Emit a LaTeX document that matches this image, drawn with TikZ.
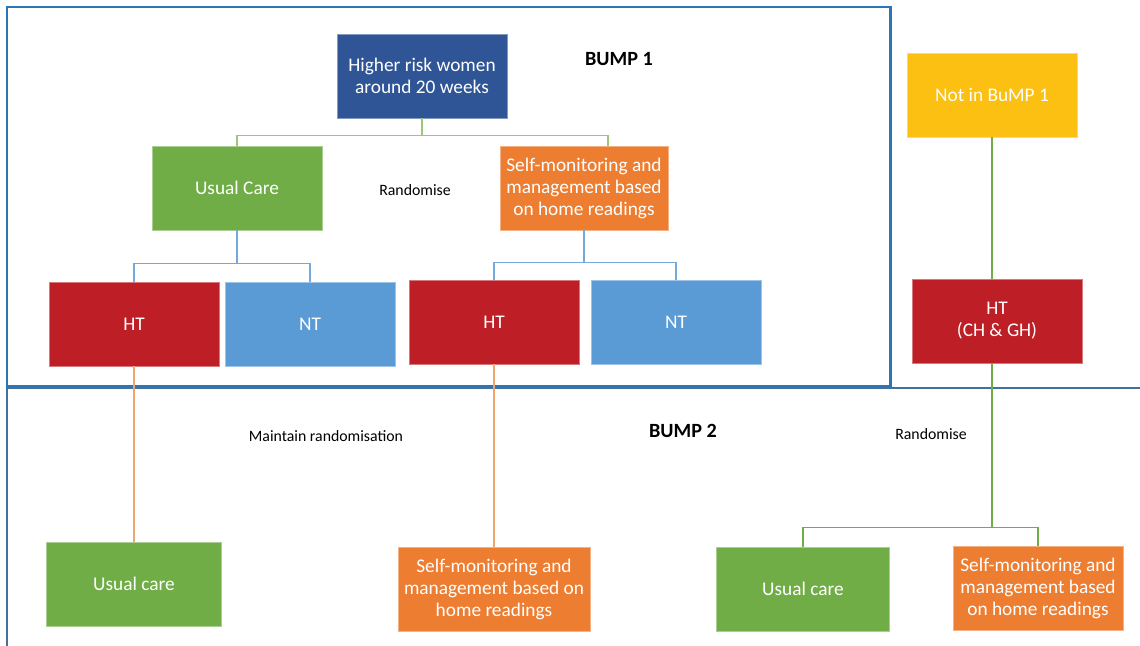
\documentclass[tikz,border=0pt]{standalone}
\usepackage{fontspec}
\setmainfont{Carlito}
\usetikzlibrary{positioning, calc}
\definecolor{frameblue}{RGB}{46,117,182}
\definecolor{framesteel}{RGB}{65,113,156}
\definecolor{riskblue}{RGB}{47,85,151}
\definecolor{caregreen}{RGB}{112,173,71}
\definecolor{selforange}{RGB}{237,125,49}
\definecolor{htred}{RGB}{190,30,37}
\definecolor{ntblue}{RGB}{91,155,213}
\definecolor{notyellow}{RGB}{252,192,19}
\tikzset{
    box/.style={
        rectangle,
        fill=#1,
        draw=#1!60!white,
        line width=0.4pt,
        inner sep=1pt,
        minimum width=3.4cm,
        minimum height=1.68cm,
        align=center,
        text=white,
        font=\fontsize{11}{12.5}\selectfont,
    },
    link/.style={
        draw=#1,
        line width=0.9pt,
    },
    note/.style={
        font=\fontsize{9}{11}\selectfont,
    },
    title/.style={
        font=\fontsize{11.5}{13}\selectfont\bfseries,
    },
}

\begin{document}
\begin{tikzpicture}[x=0.02cm, y=-0.02cm]
      \useasboundingbox (0,0) rectangle (1140,646);

      % trial frames
      \draw[frameblue, line width=1.7pt] (7,7) rectangle (890,386);
      \draw[framesteel, line width=1.7pt] (1140,388) -- (7,388) -- (7,646);

      % BUMP 1
      \node [box=riskblue] (risk) at (422,76) {Higher risk women\\around 20 weeks};
      \node [title] (bumpone) at (619,59) {BUMP 1};
      \node [box=caregreen] (usual) at (237,188) {Usual Care};
      \node [box=selforange, minimum width=3.36cm] (selfmon) at (584,188) {Self-monitoring and\\management based\\on home readings};
      \node [note] (rand) at (415,190) {Randomise};

      \node [box=htred] (htone) at (134,324) {HT};
      \node [box=ntblue] (ntone) at (310,324) {NT};
      \node [box=htred] (httwo) at (494,322) {HT};
      \node [box=ntblue] (nttwo) at (676,322) {NT};

      \node [box=notyellow] (notin) at (992,95) {Not in BuMP 1};
      \node [box=htred] (htnew) at (997,321) {HT\\(CH \& GH)};
      \coordinate (stem) at (notin.south |- htnew.south);

      % BUMP 2
      \node [title] (bumptwo) at (683,431) {BUMP 2};
      \node [note] (keep) at (326,436) {Maintain randomisation};
      \node [note] (randnew) at (931,434) {Randomise};

      \node [box=caregreen, minimum width=3.5cm] (careone) at (134,584) {Usual care};
      \node [box=selforange, minimum width=3.84cm] (selfone) at (494,589) {Self-monitoring and\\management based on\\home readings};
      \node [box=caregreen, minimum width=3.46cm] (caretwo) at (803,589) {Usual care};
      \node [box=selforange] (selftwo) at (1038,588) {Self-monitoring and\\management based\\on home readings};

      % connectors
      \draw [link=caregreen!70!white] (risk.south) -- ++(0,17) -| (usual.north);
      \draw [link=caregreen!70!white] (risk.south) -- ++(0,17) -| ($(selfmon.north)+(24,0)$);
      \draw [link=ntblue!85!white] (usual.south) -- ++(0,33) -| (htone.north);
      \draw [link=ntblue!85!white] (usual.south) -- ++(0,33) -| (ntone.north);
      \draw [link=ntblue!85!white] (selfmon.south) -- ++(0,32) -| (httwo.north);
      \draw [link=ntblue!85!white] (selfmon.south) -- ++(0,32) -| (nttwo.north);

      \draw [link=caregreen] (notin.south) -- (notin.south |- htnew.north);
      \draw [link=caregreen] (stem) -- ++(0,164) -| (caretwo.north);
      \draw [link=caregreen] (stem) -- ++(0,164) -| (selftwo.north);

      \draw [link=selforange!70!white] (htone) -- (careone);
      \draw [link=selforange!70!white] (httwo) -- (selfone);
\end{tikzpicture}
\end{document}
